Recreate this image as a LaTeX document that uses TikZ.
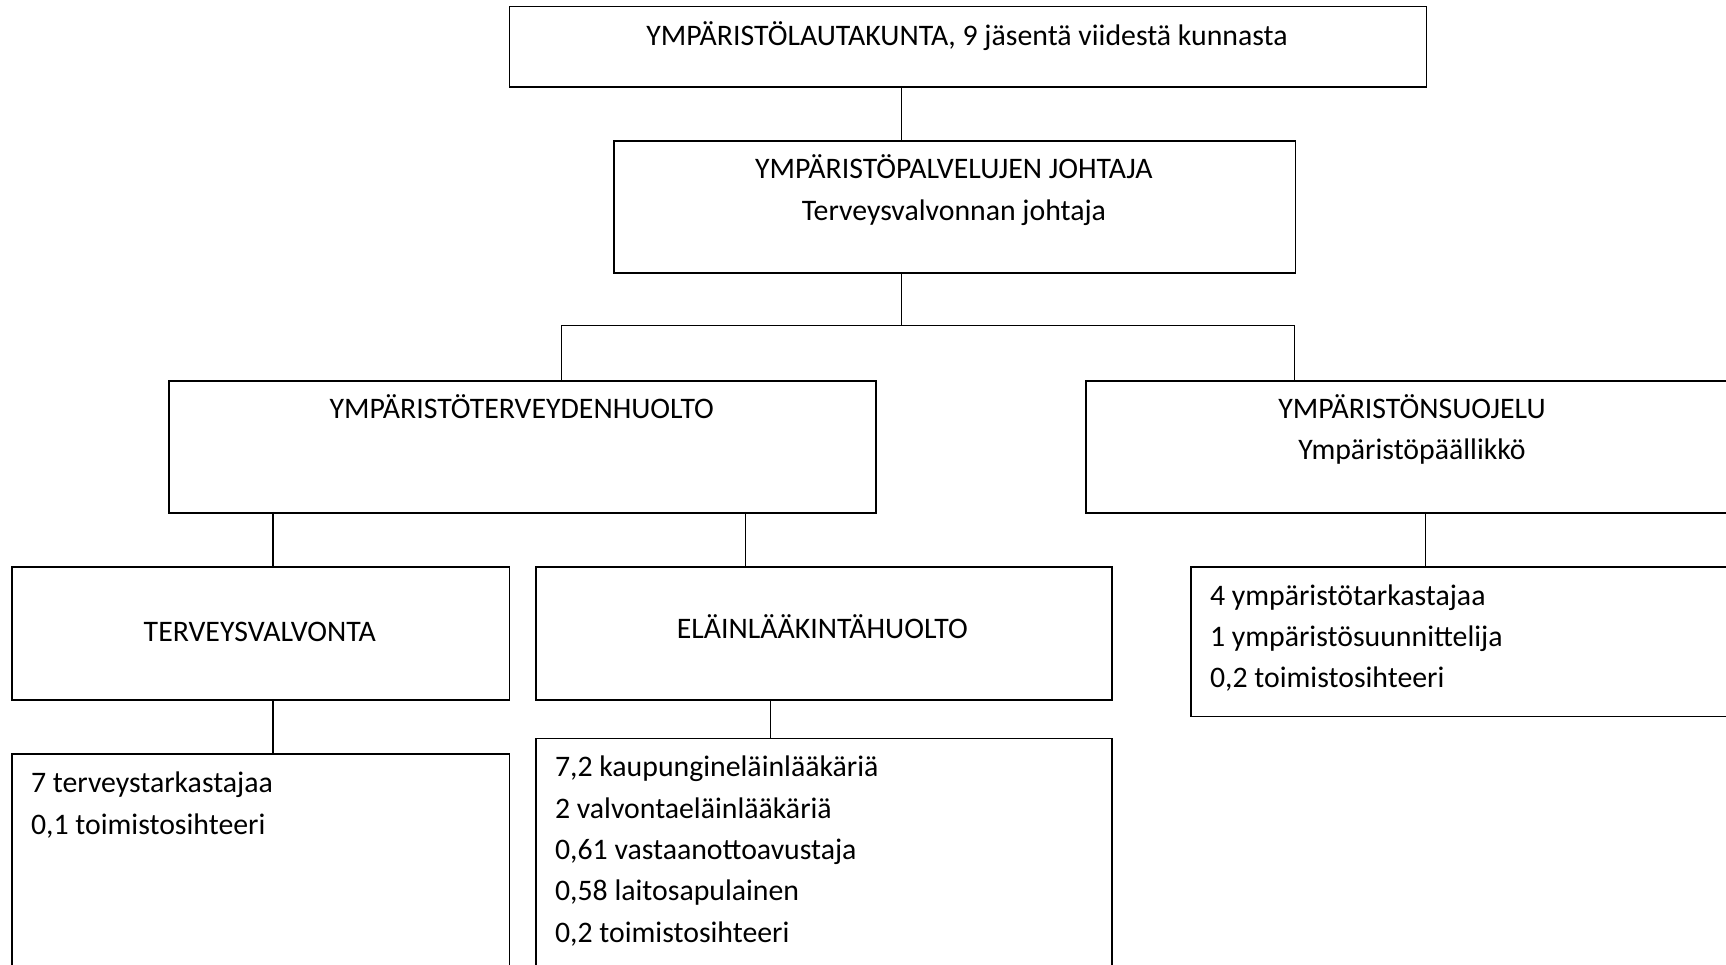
\documentclass[tikz,border=0pt]{standalone}
\usepackage{fontspec}
\setmainfont{Carlito}
\begin{document}
\begin{tikzpicture}[x=1pt,y=-1pt,
  box/.style={draw,line width=1.8pt,rectangle,inner sep=0pt,anchor=north west},
  conn/.style={line width=1.2pt},
  lbl/.style={inner sep=0pt,font=\fontsize{29.8}{41.3}\selectfont},
  lblc/.style={lbl,align=center,anchor=base},
  lbll/.style={lbl,align=left,anchor=base west}]
\clip (0,0) rectangle (1726,964);
\fill[white] (0,0) rectangle (1726,964);
% boxes
\node[box,minimum width=916.9pt,minimum height=80.4pt] (top) at (508.6,5.5) {};
\node[box,minimum width=681.4pt,minimum height=132.1pt] (jh) at (613.2,139.8) {};
\node[box,minimum width=706.7pt,minimum height=132.1pt] (eth) at (168.4,379.8) {};
\node[box,minimum width=653.2pt,minimum height=132.1pt] (ys) at (1085.4,379.8) {};
\node[box,minimum width=497.6pt,minimum height=133.2pt] (tv) at (11,565.8) {};
\node[box,minimum width=575.7pt,minimum height=133.2pt] (el) at (535,565.8) {};
\node[box,minimum width=580pt,minimum height=149.7pt] (ysh) at (1190,565.8) {};
\node[box,minimum width=497.6pt,minimum height=260pt] (tvh) at (11,753) {};
\node[box,minimum width=575.7pt,minimum height=275pt] (elh) at (535,737.5) {};
% texts (anchor = baseline of the last line)
\node[lblc] (ttop) at (967,45.9) {YMPÄRISTÖLAUTAKUNTA, 9 jäsentä viidestä kunnasta};
\node[lblc] (tjh) at (953.9,220.2) {YMPÄRISTÖPALVELUJEN JOHTAJA\\Terveysvalvonnan johtaja};
\node[lblc] (teth) at (521.8,418) {YMPÄRISTÖTERVEYDENHUOLTO};
\node[lblc] (tys) at (1412,459.5) {YMPÄRISTÖNSUOJELU\\Ympäristöpäällikkö};
\node[lblc] (ttv) at (259.8,641.5) {TERVEYSVALVONTA};
\node[lblc] (tel) at (822.3,638.2) {ELÄINLÄÄKINTÄHUOLTO};
\node[lbll] (tysh) at (1209.8,687.7) {4 ympäristötarkastajaa\\1 ympäristösuunnittelija\\0,2 toimistosihteeri};
\node[lbll] (ttvh) at (30.8,834) {7 terveystarkastajaa\\0,1 toimistosihteeri};
\node[lbll] (telh) at (554.8,942.1) {7,2 kaupungineläinlääkäriä\\2 valvontaeläinlääkäriä\\0,61 vastaanottoavustaja\\0,58 laitosapulainen\\0,2 toimistosihteeri};
% connectors
\coordinate (c1) at (901.6,85.9);
\draw[conn] (c1) -- (c1 |- jh.north);
\coordinate (bm) at (901.6,325.8);
\coordinate (bl) at (561.4,325.8);
\coordinate (br) at (1294.6,325.8);
\draw[conn] (bm |- jh.south) -- (bm);
\draw[conn] (bl |- eth.north) -- (bl) -- (br) -- (br |- ys.north);
\coordinate (d1) at (273,511.9);
\coordinate (d2) at (745.2,511.9);
\coordinate (d3) at (1425.5,511.9);
\draw[conn] (d1) -- (d1 |- tv.north);
\draw[conn] (d2) -- (d2 |- el.north);
\draw[conn] (d3) -- (d3 |- ysh.north);
\coordinate (d4) at (273,699);
\coordinate (d5) at (770.6,699);
\draw[conn] (d4) -- (d4 |- tvh.north);
\draw[conn] (d5) -- (d5 |- elh.north);
\end{tikzpicture}
\end{document}
